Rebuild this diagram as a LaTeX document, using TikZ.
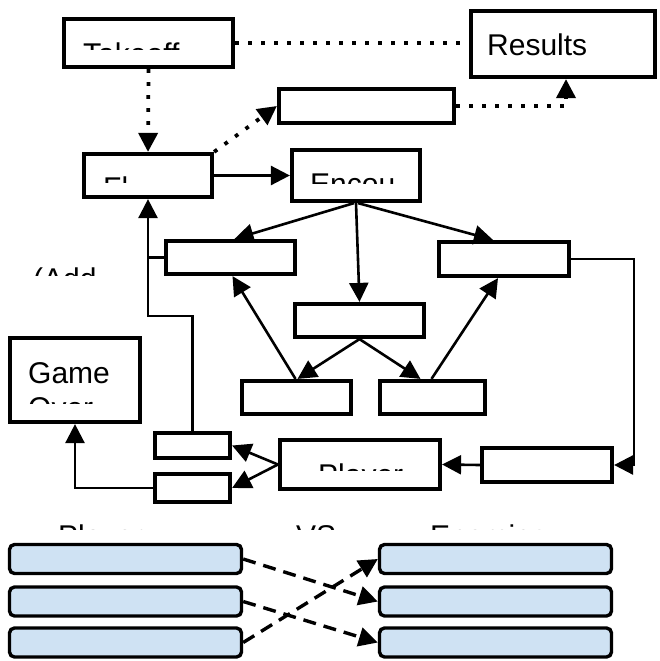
\documentclass[tikz,border=0pt]{standalone}
\usepackage{fontspec}
\setmainfont{Liberation Sans}
\usetikzlibrary{arrows.meta}
\definecolor{paleblue}{HTML}{CFE2F3}
\newcommand\clippedlabel[5]{%
  \begin{scope}
    \clip (#2-6, #4-60) rectangle (#2+400, #4);
    \node[lbl] (#1) at (#2,#3) {#5};
  \end{scope}}
\begin{document}
\begin{tikzpicture}[x=1pt,y=-1pt,
  bx/.style={draw, line width=4.2pt, inner sep=0pt, rectangle},
  bluebox/.style={draw, line width=3.4pt, inner sep=0pt, rounded corners=5pt, fill=paleblue, minimum width=232, minimum height=29},
  conn/.style={line width=2.6pt},
  tip/.style={-{Triangle[length=19pt,width=19pt]}},
  dotline/.style={line width=3.8pt, dash pattern=on 3.8pt off 9.2pt},
  dashline/.style={line width=3.4pt, dash pattern=on 13pt off 8pt},
  lbl/.style={anchor=base west, inner sep=0pt, font=\fontsize{30}{36}\selectfont}
]
\useasboundingbox (0,0) rectangle (660,661);
\fill[white] (0,0) rectangle (660,661);

% boxes
\node[bx, minimum width=169, minimum height=48] (takeoff) at (148.5,43) {};
\node[bx, minimum width=184, minimum height=66] (results) at (563,44) {};
\node[bx, minimum width=175, minimum height=34] (tm) at (366.5,106) {};
\node[bx, minimum width=128, minimum height=43] (fl) at (148,175.5) {};
\node[bx, minimum width=128, minimum height=51] (encou) at (356,175.5) {};
\node[bx, minimum width=129, minimum height=33] (lm) at (230.5,257.5) {};
\node[bx, minimum width=130, minimum height=34] (rm) at (504,259) {};
\node[bx, minimum width=129, minimum height=33] (mid) at (359.5,320.5) {};
\node[bx, minimum width=109, minimum height=33] (bl) at (296.5,397.5) {};
\node[bx, minimum width=105, minimum height=33] (br) at (432.5,397.5) {};
\node[bx, minimum width=130, minimum height=84] (gover) at (75,380) {};
\node[bx, minimum width=75, minimum height=25] (sa) at (192.5,445.5) {};
\node[bx, minimum width=75, minimum height=28] (sb) at (192.5,488) {};
\node[bx, minimum width=160, minimum height=49] (player) at (360,464.5) {};
\node[bx, minimum width=130, minimum height=34] (rb) at (547,465) {};

\node[bluebox] (l1) at (125.5,559) {};
\node[bluebox] (l2) at (125.5,601.5) {};
\node[bluebox] (l3) at (125.5,642.5) {};
\node[bluebox] (r1) at (495.5,559) {};
\node[bluebox] (r2) at (495.5,601.5) {};
\node[bluebox] (r3) at (495.5,642.5) {};

% texts
\clippedlabel{t1}{83}{64}{50}{Takeoff}
\node[lbl] (t2) at (487,56) {Results};
\clippedlabel{t3}{103}{198}{182}{Fl}
\clippedlabel{t4}{310}{194}{183}{Encou}
\clippedlabel{t5}{33}{289}{275}{(Add}
\node[lbl] (t6) at (28,383) {Game};
\clippedlabel{t7}{28}{418}{403}{Over}
\clippedlabel{t8}{318}{485}{470}{Player}
\clippedlabel{t9}{58}{546}{529}{Player}
\clippedlabel{t10}{296}{546}{529}{VS}
\clippedlabel{t11}{430}{546}{529}{Enemies}

% dotted connectors
\draw[dotline] (takeoff.east) -- (takeoff.east -| results.west);
\draw[dotline, tip] (takeoff.south) -- (fl.north);
\draw[dotline, tip] (fl.north east) -- (tm.west);
\draw[dotline, tip] (tm.east) -| ([xshift=3pt]results.south);

% solid connectors
\draw[conn, tip] (fl.east) -- (fl.east -| encou.west);
\draw[conn, tip] ([xshift=-2pt]encou.south) -- ([xshift=4pt]lm.north);
\draw[conn, tip] (encou.south) -- (mid.north);
\draw[conn, tip] ([xshift=2pt]encou.south) -- ([xshift=-11pt]rm.north);
\draw[conn, tip] (mid.south) -- ([xshift=1pt]bl.north);
\draw[conn, tip] (mid.south) -- ([xshift=-12pt]br.north);
\draw[conn, tip] ([xshift=-1pt]bl.north) -- ([xshift=2pt]lm.south);
\draw[conn, tip] ([xshift=-1pt]br.north) -- ([xshift=-6pt]rm.south);
\draw[conn, tip] (rm.east) -- ++(63,0) |- (rb.east);
\draw[conn, tip] (rb.west) -- (player.east);
\draw[conn, tip] (player.west) -- (sa.east);
\draw[conn, tip] (player.west) -- (sb.east);
\draw[conn, tip] (sa.north) -- ++(0,-115) -| (fl.south);
\draw[conn] (lm.west) -- (lm.west -| fl.south);
\draw[conn, tip] (sb.west) -| (gover.south);

% dashed connectors
\draw[dashline, tip] (l1.east) -- (r2.west);
\draw[dashline, tip] (l2.east) -- (r3.west);
\draw[dashline, tip] (l3.east) -- (r1.west);
\end{tikzpicture}
\end{document}
